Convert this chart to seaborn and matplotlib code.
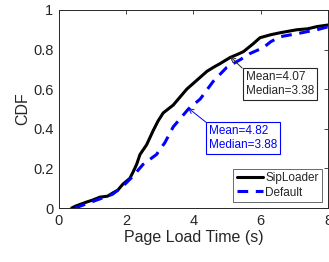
import numpy as np
import pandas as pd
import seaborn as sns
import matplotlib
matplotlib.use("Agg")
import matplotlib.pyplot as plt

# CDF traces
sip_x = [0.38, 0.5, 0.82, 1.0, 1.22, 1.45, 1.61, 1.75, 1.9, 2.11, 2.2, 2.31, 2.41, 2.61, 2.8,
         2.95, 3.1, 3.25, 3.4, 3.6, 3.8, 4.0, 4.2, 4.4, 4.59, 4.8, 5.09, 5.3, 5.49, 5.78, 5.98,
         6.3, 6.58, 7.07, 7.4, 7.67, 8.0]
sip_y = [0.0, 0.01, 0.03, 0.04, 0.055, 0.06, 0.077, 0.09, 0.12, 0.15, 0.18, 0.22, 0.27, 0.32, 0.39,
         0.44, 0.48, 0.50, 0.52, 0.56, 0.60, 0.63, 0.66, 0.69, 0.71, 0.73, 0.76, 0.775, 0.79, 0.83, 0.86,
         0.875, 0.885, 0.90, 0.905, 0.916, 0.924]
def_x = [0.48, 0.8, 1.2, 1.6, 1.9, 2.2, 2.5, 2.9, 3.15, 3.4, 3.6, 3.85, 4.2, 4.59, 4.99, 5.09,
         5.4, 5.68, 6.08, 6.3, 6.58, 7.07, 7.67, 8.0]
def_y = [0.0, 0.02, 0.045, 0.07, 0.11, 0.16, 0.22, 0.27, 0.33, 0.41, 0.45, 0.50, 0.55, 0.64, 0.71, 0.72,
         0.75, 0.78, 0.81, 0.84, 0.865, 0.88, 0.90, 0.915]

sip_text = "Mean=4.07\nMedian=3.38"
def_text = "Mean=4.82\nMedian=3.88"

sns.set_style("white")
plt.rcParams['font.family'] = ['Liberation Sans', 'DejaVu Sans']

fig = plt.figure(figsize=(3.29, 2.62), dpi=100)
ax = fig.add_axes([0.179, 0.206, 0.818, 0.756])

df1 = pd.DataFrame({'x': sip_x, 'y': sip_y})
df2 = pd.DataFrame({'x': def_x, 'y': def_y})
sns.lineplot(data=df1, x='x', y='y', ax=ax, color='black', lw=2.2, estimator=None, label='SipLoader')
sns.lineplot(data=df2, x='x', y='y', ax=ax, color='blue', lw=2.2, estimator=None, label='Default')
ax.lines[1].set_dashes([3.5, 2.5])

ax.set_xlim(0, 8)
ax.set_ylim(0, 1)
ax.set_xticks([0, 2, 4, 6, 8])
ax.set_yticks([0, 0.2, 0.4, 0.6, 0.8, 1])
ax.set_yticklabels(['0', '0.2', '0.4', '0.6', '0.8', '1'])
ax.tick_params(direction='in', length=3, width=0.6, labelsize=10.5, colors='#262626',
               top=True, right=True, pad=4)
for s in ax.spines.values():
    s.set_linewidth(0.7)
    s.set_color('#262626')
ax.set_xlabel('Page Load Time (s)', fontsize=11.5, color='#262626', labelpad=2)
ax.set_ylabel('CDF', fontsize=11.5, color='#262626', labelpad=2)

ax.annotate(sip_text, xy=(5.09, 0.765), xytext=(5.55, 0.69), fontsize=8.5, ha='left', va='top',
            color='#262626',
            bbox=dict(boxstyle='square,pad=0.25', fc='white', ec='#262626', lw=0.8),
            arrowprops=dict(arrowstyle='->', color='#262626', lw=0.7, relpos=(0, 1),
                        shrinkA=0, shrinkB=0))
ax.annotate(def_text, xy=(3.84, 0.505), xytext=(4.47, 0.42), fontsize=8.5, ha='left', va='top',
            color='blue',
            bbox=dict(boxstyle='square,pad=0.25', fc='white', ec='blue', lw=0.8),
            arrowprops=dict(arrowstyle='->', color='blue', lw=0.7, relpos=(0, 1),
                        shrinkA=0, shrinkB=0))

leg = ax.legend(loc='lower right', fontsize=8.5, frameon=True, fancybox=False,
                handlelength=2.2, handletextpad=0.2, borderpad=0.3, labelspacing=0.2,
                borderaxespad=0.5)
leg.get_frame().set_edgecolor('#262626')
leg.get_frame().set_linewidth(0.6)

fig.savefig('out.png', dpi=100)
